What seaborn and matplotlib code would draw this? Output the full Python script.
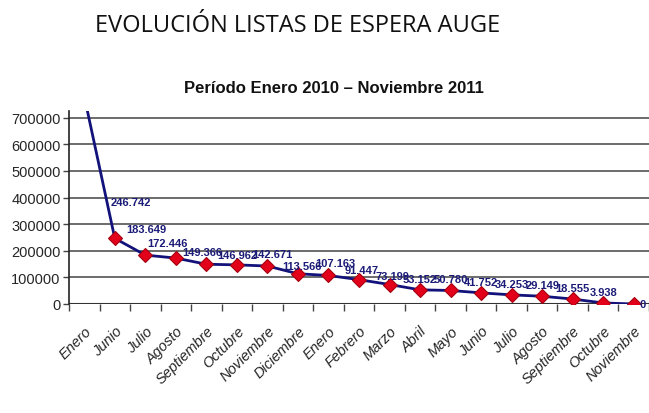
import matplotlib
matplotlib.use("Agg")
import matplotlib.pyplot as plt
import seaborn as sns
import pandas as pd
import numpy as np

# datos (el primer punto queda fuera del area, valor estimado)
meses = ['Enero', 'Junio', 'Julio', 'Agosto', 'Septiembre', 'Octubre', 'Noviembre',
         'Diciembre', 'Enero', 'Febrero', 'Marzo', 'Abril', 'Mayo', 'Junio', 'Julio',
         'Agosto', 'Septiembre', 'Octubre', 'Noviembre']
casos = [780000, 246742, 183649, 172446, 149366, 146962, 142671, 113566, 107163,
         91447, 73199, 53152, 50780, 41752, 34253, 29149, 18555, 3938, 0]

sns.set_theme(style='white')
plt.rcParams['font.family'] = ['Liberation Sans', 'DejaVu Sans']
narrow = ['Liberation Sans Narrow', 'DejaVu Sans Condensed', 'Liberation Sans']

df = pd.DataFrame({'pos': np.arange(len(casos)), 'casos': casos})

fig = plt.figure(figsize=(6.49, 4.14), dpi=100)
ax = fig.add_axes([0.1063, 0.2633, 0.8937, 0.4662])

sns.lineplot(data=df, x='pos', y='casos', ax=ax, color='#12127a', lw=2,
             marker='D', markersize=7, markerfacecolor='#e3001b',
             markeredgecolor='#a3000f', markeredgewidth=0.8, zorder=3)

ax.set_xlim(-0.5, len(casos) - 0.5)
ax.set_ylim(0, 725000)
ax.set_yticks(np.arange(0, 700001, 100000))
ax.set_yticklabels([str(v) for v in range(0, 700001, 100000)], fontsize=10.5)
for y in range(100000, 700001, 100000):
    ax.axhline(y, color='#606060', lw=1.3, zorder=1)
ax.axhline(0, color='#333333', lw=1.5, zorder=2)

ax.set_xticks(np.arange(-0.5, len(casos)), minor=False)
ax.set_xticklabels([])
ax.set_xticks(np.arange(len(casos)), minor=True)
ax.set_xticklabels(meses, minor=True, rotation=45, ha='right', va='top',
                   fontsize=10.5, style='italic', rotation_mode='anchor')
ax.tick_params(axis='x', which='major', direction='out', length=5, width=1, color='#444444', bottom=True)
ax.tick_params(axis='x', which='minor', length=0, pad=14)
ax.tick_params(axis='y', direction='out', length=4, width=1, color='#444444', left=True, pad=2)

for s in ['top', 'right', 'bottom']:
    ax.spines[s].set_visible(False)
ax.spines['left'].set_color('#222222')
ax.spines['left'].set_linewidth(1.2)
ax.set_xlabel('')
ax.set_ylabel('')

# desplazamientos de las etiquetas (pixeles)
offs = {1: (16, 36), 2: (1, 26), 3: (-8, 15), 4: (-4, 12), 5: (0, 10), 6: (5, 12),
        7: (4, 8), 8: (7, 12), 9: (3, 10), 10: (3, 9)}
for i, v in enumerate(casos):
    if i == 0:
        continue
    txt = f"{v:,}".replace(',', '.')
    if i == len(casos) - 1:
        ax.annotate(txt, (i, v), xytext=(6, 0), textcoords='offset pixels',
                    ha='left', va='center', fontsize=8, fontweight='bold',
                    color='#1c1c78', annotation_clip=False, family=narrow)
        continue
    dx, dy = offs.get(i, (0, 11))
    ax.annotate(txt, (i, v), xytext=(dx, dy), textcoords='offset pixels',
                ha='center', va='center', fontsize=8, fontweight='bold',
                color='#1c1c78', family=narrow)

fig.text(0.147, 0.937, 'EVOLUCIÓN LISTAS DE ESPERA AUGE', ha='left', va='center',
         fontsize=17, color='#111111', family=['Open Sans', 'DejaVu Sans'])
fig.text(0.515, 0.787, 'Período Enero 2010 – Noviembre 2011', ha='center', va='center',
         fontsize=12, fontweight='bold', color='#111111')

fig.savefig('out.png', dpi=100)
